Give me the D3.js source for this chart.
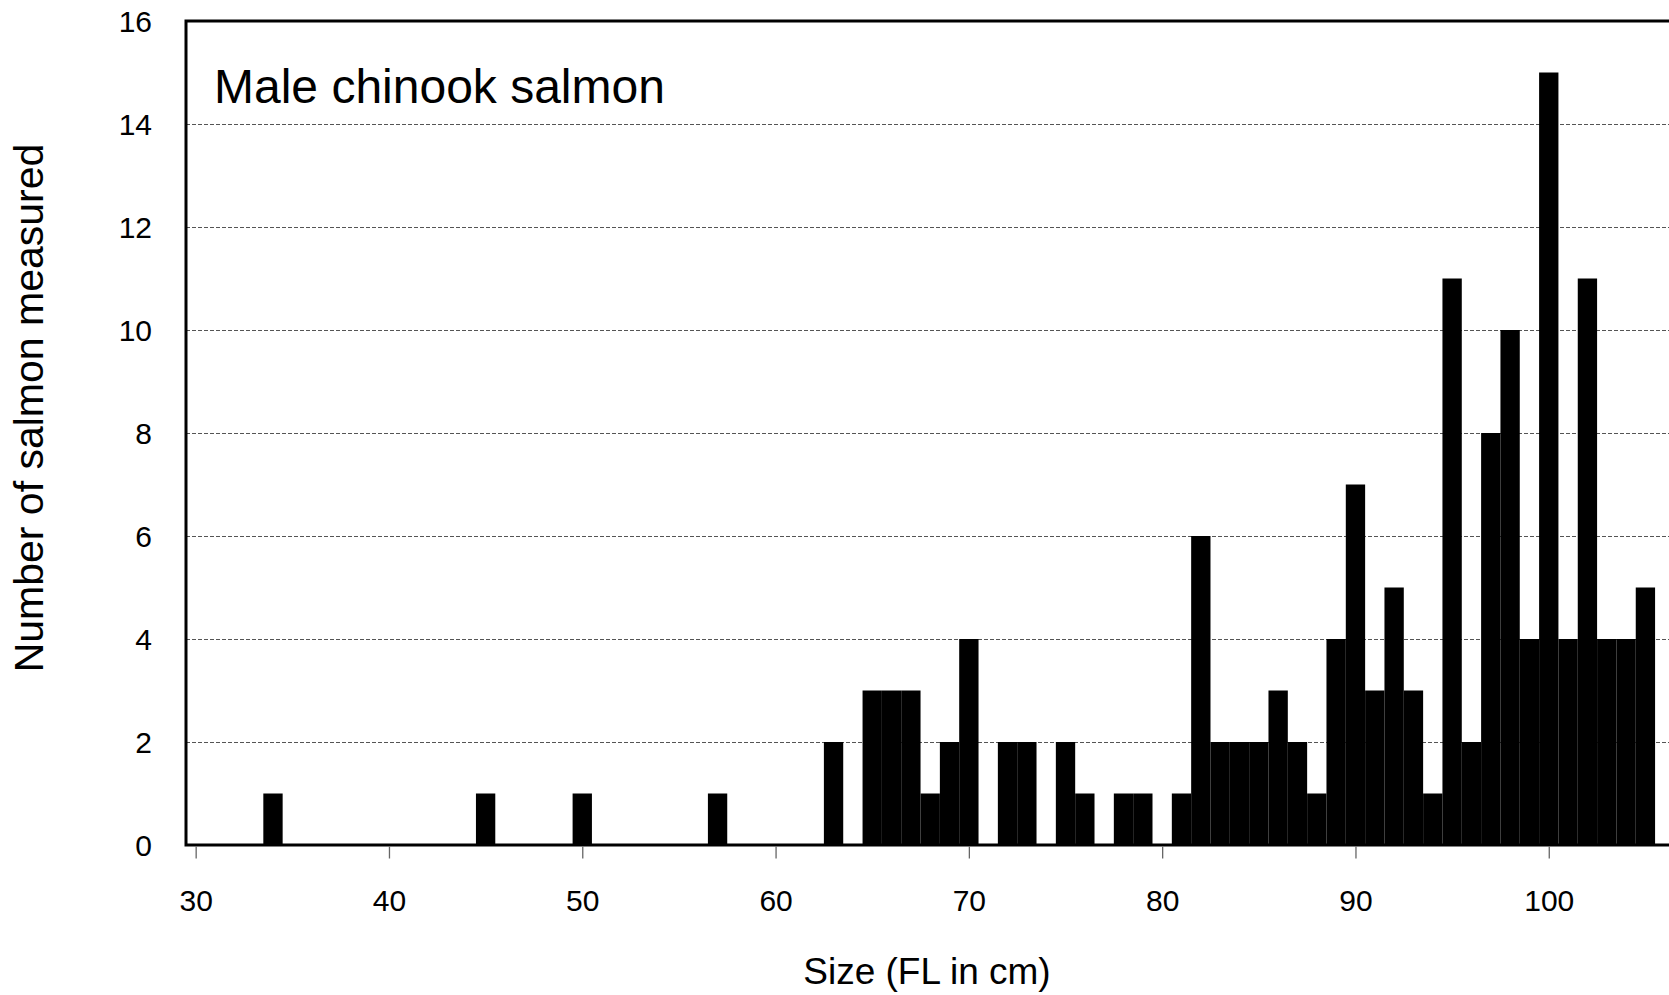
<!DOCTYPE html>
<html>
<head>
<meta charset="utf-8">
<script src="https://cdn.jsdelivr.net/npm/d3@7"></script>
<style>
    body { margin: 0; background: #fff; }
    svg { display: block; font-family: "Liberation Sans", Arial, sans-serif; }
</style>
</head>
<body>
<script>

const title = "Male chinook salmon";
const xTitle = "Size (FL in cm)";
const yTitle = "Number of salmon measured";

// fork length (cm) of each 1 cm bin and the count in it
const sizes = [34, 45, 50, 57, 63, 65, 66, 67, 68, 69, 70, 72, 73, 75, 76, 78, 79, 81, 82,
    83, 84, 85, 86, 87, 88, 89, 90, 91, 92, 93, 94, 95, 96, 97, 98, 99, 100,
    101, 102, 103, 104, 105];
const counts = [1, 1, 1, 1, 2, 3, 3, 3, 1, 2, 4, 2, 2, 2, 1, 1, 1, 1, 6,
    2, 2, 2, 3, 2, 1, 4, 7, 3, 5, 3, 1, 11, 2, 8, 10, 4, 15,
    4, 11, 4, 4, 5];

const xTicks = [30, 40, 50, 60, 70, 80, 90, 100];
const yTicks = [0, 2, 4, 6, 8, 10, 12, 14, 16];

const width = 1669,
    height = 995;

const plot = {left: 186, top: 21, bottom: 845};
const pxPerCm = 19.33;

let x = d3.scaleLinear()
    .domain([29.5, 112])
    .range([plot.left, plot.left + (112 - 29.5) * pxPerCm]);

let y = d3.scaleLinear()
    .domain([0, 16])
    .range([plot.bottom, plot.top]);

let svg = d3.select("body").append("svg")
    .attr("width", width)
    .attr("height", height);

// dashed grid lines
svg.append("g")
    .selectAll("line")
    .data(yTicks.filter(d => d > 0 && d < 16))
    .enter()
    .append("line")
    .attr("x1", plot.left)
    .attr("x2", width)
    .attr("y1", d => Math.round(y(d)) + 0.5)
    .attr("y2", d => Math.round(y(d)) + 0.5)
    .attr("stroke", "#555")
    .attr("stroke-width", 1)
    .attr("stroke-dasharray", "4,2");

// bars
svg.append("g")
    .selectAll("rect")
    .data(sizes)
    .enter()
    .append("rect")
    .attr("x", d => x(d - 0.5))
    .attr("width", d => x(d + 0.5) - x(d - 0.5))
    .attr("y", (d, i) => y(counts[i]))
    .attr("height", (d, i) => y(0) - y(counts[i]))
    .attr("fill", "#000");

// frame: left, top and bottom
svg.append("path")
    .attr("d", `M${width + 5},${plot.top} H${plot.left} V${plot.bottom} H${width + 5}`)
    .attr("fill", "none")
    .attr("stroke", "#000")
    .attr("stroke-width", 3);

// x ticks and labels
let xAxis = svg.append("g")
    .attr("transform", "translate(0," + (plot.bottom + 1.5) + ")")
    .call(d3.axisBottom(x).tickValues(xTicks).tickSize(12).tickPadding(31).tickFormat(d3.format("d")));
xAxis.select(".domain").remove();
xAxis.selectAll(".tick line").attr("stroke", "#666").attr("stroke-width", 1.3);
xAxis.selectAll(".tick text")
    .attr("fill", "#000")
    .style("font-size", "30px")
    .style("font-family", "'Liberation Sans', Arial, sans-serif");

// y labels
svg.append("g")
    .selectAll("text")
    .data(yTicks)
    .enter()
    .append("text")
    .attr("x", 152)
    .attr("y", d => y(d))
    .attr("dy", "0.36em")
    .attr("text-anchor", "end")
    .style("font-size", "30px")
    .text(d => d);

svg.append("text")
    .attr("x", 214)
    .attr("y", 103)
    .style("font-size", "48px")
    .text(title);

svg.append("text")
    .attr("x", 927)
    .attr("y", 984)
    .attr("text-anchor", "middle")
    .style("font-size", "37px")
    .text(xTitle);

svg.append("text")
    .attr("transform", "translate(43,408) rotate(-90)")
    .attr("text-anchor", "middle")
    .style("font-size", "41px")
    .text(yTitle);

</script>
</body>
</html>
